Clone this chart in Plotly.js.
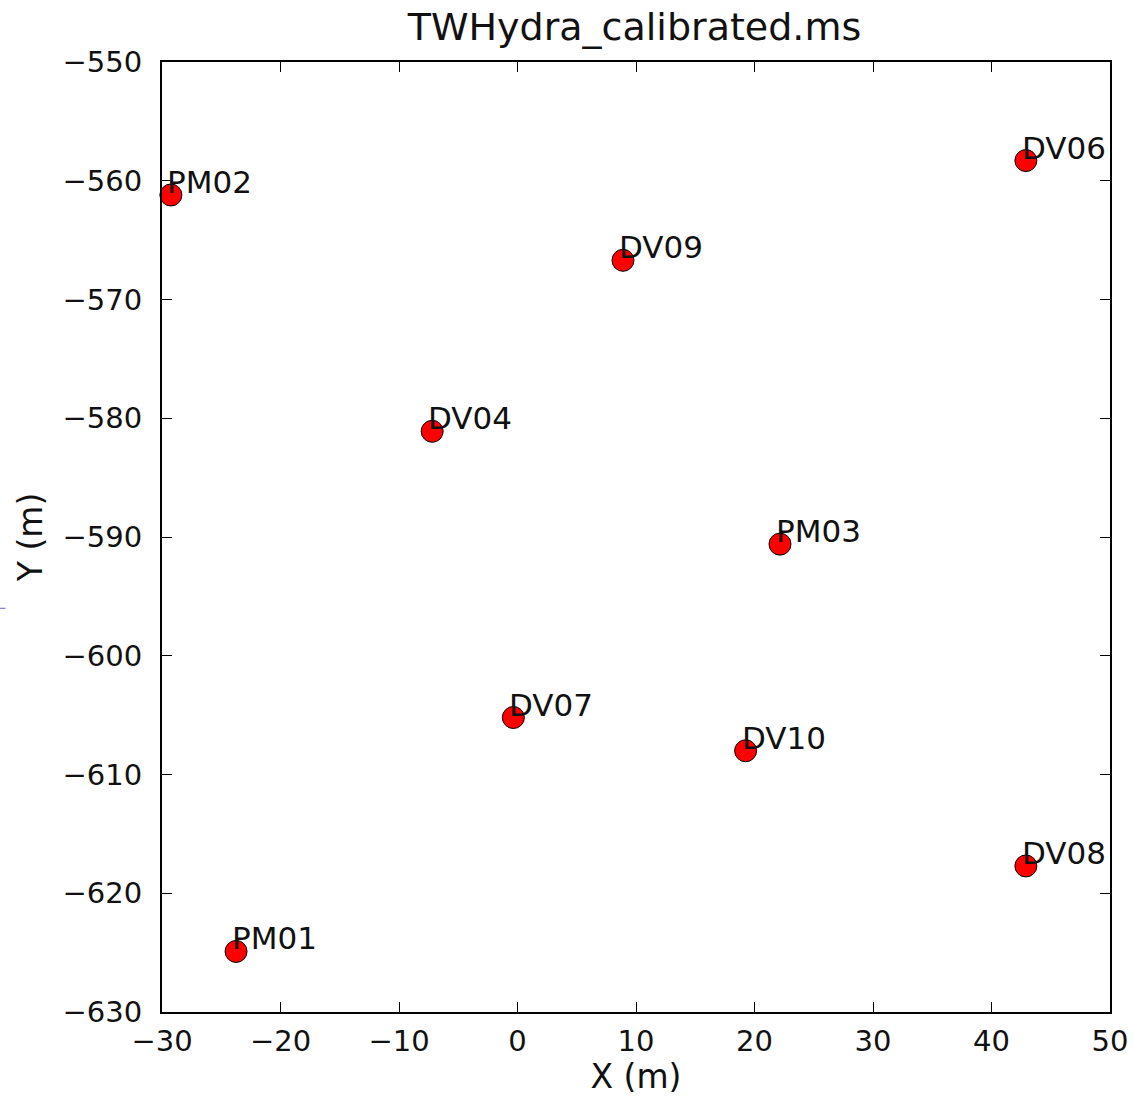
<!DOCTYPE html>
<html>
<head>
<meta charset="utf-8">
<script src="https://cdn.plot.ly/plotly-3.0.1.min.js"></script>
<style>html,body{margin:0;padding:0;background:#fff;}#plot{width:1133px;height:1096px;}</style>
</head>
<body>
<div id="plot"></div>
<script>
const antennaNames = ["PM02", "DV06", "DV09", "DV04", "PM03", "DV07", "DV10", "DV08", "PM01"];
const xMeters = [-29.25, 42.9, 8.9, -7.2, 22.15, -0.35, 19.25, 42.9, -23.75];
const yMeters = [-561.2, -558.3, -566.7, -581.1, -590.6, -605.2, -608.0, -617.7, -624.9];
const xTicks = [-30, -20, -10, 0, 10, 20, 30, 40, 50];
const yTicks = [-630, -620, -610, -600, -590, -580, -570, -560, -550];

const fontFam = "DejaVu Sans, sans-serif";
const tickText = v => (v < 0 ? "\u2212" + Math.abs(v) : String(v));

const trace = {
  x: xMeters, y: yMeters, mode: "markers", type: "scatter",
  marker: {color: "#ff0000", size: 22, line: {color: "#000000", width: 1}},
  hoverinfo: "skip", cliponaxis: false
};

const annotations = antennaNames.map((n, i) => ({
  x: xMeters[i], y: yMeters[i], xref: "x", yref: "y", text: n,
  showarrow: false, xanchor: "left", yanchor: "bottom", xshift: -6, yshift: -7,
  font: {family: fontFam, size: 31, color: "#111"}
}));

const axisCommon = {
  showgrid: false, zeroline: false, showline: true, linecolor: "#000", linewidth: 2,
  mirror: "ticks", ticks: "inside", ticklen: 10, tickwidth: 1, tickcolor: "#000",
  tickfont: {family: fontFam, size: 29, color: "#111"}, tickmode: "array"
};

const layout = {
  width: 1133, height: 1096,
  margin: {l: 162, r: 23, t: 62, b: 84},
  paper_bgcolor: "#fff", plot_bgcolor: "#fff",
  showlegend: false,
  title: {text: "TWHydra_calibrated.ms", font: {family: fontFam, size: 38, color: "#111"},
          x: 0.56, xanchor: "center", y: 0.976, yanchor: "middle"},
  xaxis: Object.assign({}, axisCommon, {
    range: [-30, 50], tickvals: xTicks, ticktext: xTicks.map(tickText), ticklabelstandoff: 2,
    title: {text: "X (m)", font: {family: fontFam, size: 33, color: "#111"}, standoff: 4}
  }),
  yaxis: Object.assign({}, axisCommon, {
    range: [-630, -550], tickvals: yTicks, ticktext: yTicks.map(tickText), ticklabelstandoff: 12,
    title: {text: "Y (m)", font: {family: fontFam, size: 33, color: "#111"}, standoff: 10}
  }),
  annotations: annotations,
  shapes: [{type: "line", xref: "paper", yref: "paper", x0: -0.171, x1: -0.165, y0: 0.425, y1: 0.425,
            line: {color: "#6666cc", width: 1}}]
};

Plotly.newPlot("plot", [trace], layout, {displayModeBar: false, staticPlot: true});
</script>
</body>
</html>
